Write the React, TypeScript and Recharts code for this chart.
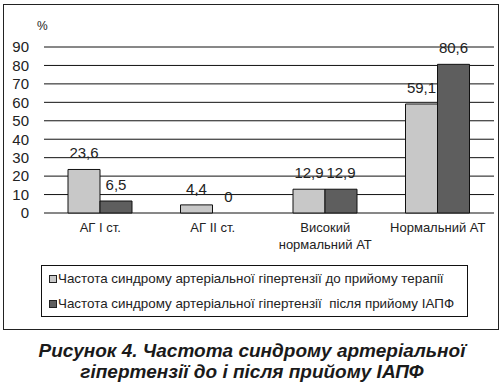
import React from 'react';
import { BarChart, Bar, XAxis, YAxis, CartesianGrid, LabelList, Legend, Rectangle } from 'recharts';

const categories = ['АГ І ст.', 'АГ ІІ ст.', 'Високий\nнормальний АТ', 'Нормальний АТ'];
const beforeValues = [23.6, 4.4, 12.9, 59.1];
const afterValues = [6.5, 0, 12.9, 80.6];
const yTicks = [0, 10, 20, 30, 40, 50, 60, 70, 80, 90];

const beforeName = 'Частота синдрому артеріальної гіпертензії до прийому терапії';
const afterName = 'Частота синдрому артеріальної гіпертензії  після прийому ІАПФ';
const seriesOrder = ['before', 'after'];

const data = categories.map((name, i) => ({
  name,
  before: beforeValues[i],
  after: afterValues[i],
}));

const numFont = '"Liberation Sans", Arial, sans-serif';
const textFont = '"Liberation Sans", Arial, sans-serif';

const fmt = (v: any) => String(v).replace('.', ',');

// zero-height bars keep their label but draw nothing
const BarShape = (props: any) => (Math.abs(props.height) < 0.5 ? <g /> : <Rectangle {...props} />);

const CategoryTick = ({ x, y, payload }: any) => {
  const lines = String(payload.value).split('\n');
  return (
    <text x={x} y={y} textAnchor="middle" fontFamily={textFont} fontSize={13} fill="#222">
      {lines.map((line, i) => (
        <tspan key={i} x={x} dy={i === 0 ? 11 : 17}>
          {line}
        </tspan>
      ))}
    </text>
  );
};

const LegendBox = ({ payload }: any) => {
  const items = [...(payload || [])].sort(
    (a: any, b: any) => seriesOrder.indexOf(a.dataKey) - seriesOrder.indexOf(b.dataKey)
  );
  return (
    <div
      style={{
        border: '1px solid #111',
        width: 427,
        height: 52,
        boxSizing: 'border-box',
        paddingTop: 0,
        paddingLeft: 7,
        fontFamily: textFont,
        fontSize: 13.4,
        color: '#222',
        background: '#fff',
      }}
    >
      {items.map((entry: any) => (
        <div key={entry.value} style={{ display: 'flex', alignItems: 'center', height: 25, whiteSpace: 'pre' }}>
          <span
            style={{
              display: 'inline-block',
              width: 6,
              height: 6,
              border: '1px solid #222',
              background: entry.color,
              marginRight: 1,
            }}
          />
          {entry.value}
        </div>
      ))}
    </div>
  );
};

export default function App() {
  return (
    <div style={{ position: 'absolute', left: 0, top: 0, width: 504, height: 384, background: '#fff' }}>
      <div
        style={{
          position: 'absolute',
          left: 3,
          top: 4,
          width: 496,
          height: 326,
          border: '1.5px solid #222',
          boxSizing: 'border-box',
        }}
      />
      <div
        style={{
          position: 'absolute',
          left: 37,
          top: 19,
          fontFamily: numFont,
          fontSize: 12,
          color: '#222',
        }}
      >
        %
      </div>
      <div style={{ position: 'absolute', left: 0, top: 0 }}>
        <BarChart
          width={504}
          height={330}
          data={data}
          margin={{ top: 47, right: 10, bottom: 77, left: 0 }}
          barGap={0}
          barSize={32}
        >
          <CartesianGrid vertical={false} stroke="#111" strokeWidth={1} />
          <XAxis dataKey="name" axisLine={false} tickLine={false} interval={0} height={40} tick={<CategoryTick />} />
          <YAxis
            domain={[0, 90]}
            ticks={yTicks}
            width={44}
            axisLine={false}
            tickLine={false}
            tickSize={0}
            tickMargin={15}
            interval={0}
            tick={{ fontFamily: numFont, fontSize: 15, fill: '#222' }}
          />
          <Legend
            layout="vertical"
            align="center"
            verticalAlign="middle"
            wrapperStyle={{ position: 'absolute', left: 41, top: 265, width: 427 }}
            content={<LegendBox />}
          />
          <Bar dataKey="before" name={beforeName} fill="#c8c8c8" stroke="#111" strokeWidth={1} minPointSize={0.01} shape={BarShape} isAnimationActive={false}>
            <LabelList dataKey="before" position="top" offset={11} formatter={fmt} style={{ fontFamily: numFont, fontSize: 15, fill: '#222' }} />
          </Bar>
          <Bar dataKey="after" name={afterName} fill="#5e5e5e" stroke="#111" strokeWidth={1} minPointSize={0.01} shape={BarShape} isAnimationActive={false}>
            <LabelList dataKey="after" position="top" offset={11} formatter={fmt} style={{ fontFamily: numFont, fontSize: 15, fill: '#222' }} />
          </Bar>
        </BarChart>
      </div>
      <div
        style={{
          position: 'absolute',
          left: 0,
          top: 340,
          width: 504,
          textAlign: 'center',
          fontFamily: textFont,
          fontWeight: 'bold',
          fontStyle: 'italic',
          fontSize: 19,
          lineHeight: '21px',
          color: '#1a1a1a',
        }}
      >
        Рисунок 4. Частота синдрому артеріальної
        <br />
        гіпертензії до і після прийому ІАПФ
      </div>
    </div>
  );
}
